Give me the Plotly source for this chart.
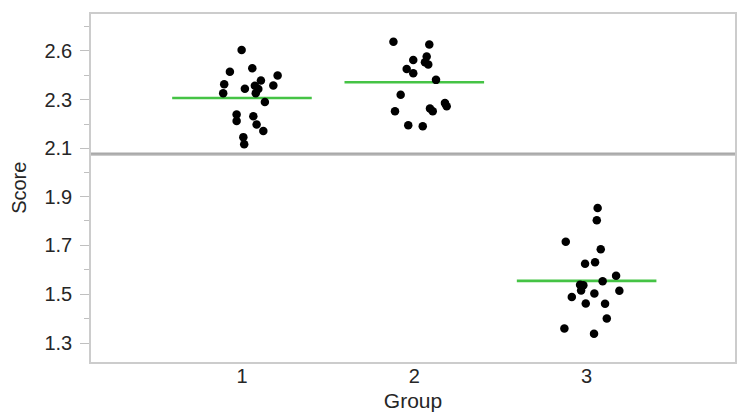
import plotly.graph_objects as go

# ---- data ----
group_labels = ["1", "2", "3"]
group_pos = [1, 2, 3]

# jittered x positions (group + jitter) and scores
g1_x = [0.998, 0.930, 1.060, 1.207, 0.897, 0.891, 1.017, 1.110, 1.075, 1.095,
        1.080, 1.182, 1.133, 0.969, 0.969, 1.066, 1.085, 1.124, 1.008, 1.013]
g1_y = [2.604, 2.493, 2.510, 2.473, 2.429, 2.383, 2.406, 2.448, 2.421, 2.404,
        2.383, 2.422, 2.338, 2.274, 2.240, 2.265, 2.223, 2.189, 2.158, 2.121]

g2_x = [1.879, 2.087, 1.994, 2.072, 2.062, 2.081, 1.956, 1.994, 2.126, 1.921,
        1.888, 2.091, 2.107, 2.178, 2.188, 1.965, 2.049]
g2_y = [2.646, 2.632, 2.553, 2.570, 2.541, 2.530, 2.507, 2.485, 2.451, 2.375,
        2.290, 2.304, 2.290, 2.332, 2.316, 2.219, 2.214]

g3_x = [3.064, 3.059, 2.879, 3.082, 2.991, 3.049, 3.171, 3.093, 2.962, 2.981,
        2.968, 3.190, 2.914, 3.045, 2.995, 3.107, 3.117, 2.871, 3.043]
g3_y = [1.853, 1.803, 1.715, 1.684, 1.625, 1.631, 1.576, 1.553, 1.539, 1.537,
        1.516, 1.515, 1.489, 1.503, 1.462, 1.461, 1.401, 1.360, 1.339]

group_means = [2.358, 2.439, 1.555]

# axis tick labels
low_tickvals = [1.3, 1.5, 1.7, 1.9]
low_ticktext = ["1.3", "1.5", "1.7", "1.9"]
high_tickvals = [2.1, 2.35, 2.6]
high_ticktext = ["2.1", "2.3", "2.6"]

# ---- styling / layout constants ----
BREAK = 2.075
LOW_RANGE = [1.223, 2.076]
HIGH_RANGE = [2.074, 2.788]
X_RANGE = [0.124, 3.861]
SPLIT = 0.599
HALF_W = 0.405
FONT = "Liberation Sans, Arial, sans-serif"
TXT = "#262626"
FRAME = "#cccccc"

all_x = g1_x + g2_x + g3_x
all_y = g1_y + g2_y + g3_y

fig = go.Figure()

# mean lines
for g, m in zip(group_pos, group_means):
    top = m > BREAK
    fig.add_trace(go.Scatter(
        x=[g - HALF_W, g + HALF_W], y=[m, m], mode="lines",
        line=dict(color="#45c345", width=2.6),
        xaxis="x2" if top else "x", yaxis="y2" if top else "y",
        showlegend=False, hoverinfo="skip"))

# points
lo_x = [x for x, y in zip(all_x, all_y) if y <= BREAK]
lo_y = [y for y in all_y if y <= BREAK]
hi_x = [x for x, y in zip(all_x, all_y) if y > BREAK]
hi_y = [y for y in all_y if y > BREAK]

mk = dict(color="black", size=8.5, line=dict(width=0))
fig.add_trace(go.Scatter(x=lo_x, y=lo_y, mode="markers", marker=mk,
                         xaxis="x", yaxis="y", showlegend=False))
fig.add_trace(go.Scatter(x=hi_x, y=hi_y, mode="markers", marker=mk,
                         xaxis="x2", yaxis="y2", showlegend=False))

yax_common = dict(
    showgrid=False, zeroline=False, showline=True, linecolor=FRAME,
    linewidth=1.5, mirror=True, ticks="outside", ticklen=9, tickwidth=1.2,
    tickcolor="#c0c0c0", tickfont=dict(family=FONT, size=20, color=TXT),
    ticklabelstandoff=4, fixedrange=True)

# the page body has an 8px margin: size the figure so the plot area
# lands where the reference has it
fig.update_layout(
    width=742, height=405,
    margin=dict(l=83, r=15, t=4, b=50),
    paper_bgcolor="white", plot_bgcolor="white",
    xaxis=dict(domain=[0, 1], range=X_RANGE, anchor="y",
               tickvals=group_pos, ticktext=group_labels,
               showgrid=False, zeroline=False, showline=True,
               linecolor=FRAME, linewidth=1.5, ticks="",
               ticklabelstandoff=-5,
               tickfont=dict(family=FONT, size=20, color=TXT),
               title=dict(text="Group", standoff=8,
                          font=dict(family=FONT, size=21, color=TXT))),
    xaxis2=dict(domain=[0, 1], range=X_RANGE, anchor="y2", matches="x",
                showticklabels=False, showgrid=False, zeroline=False,
                showline=True, mirror=True, linecolor=FRAME, linewidth=1.5,
                ticks=""),
    yaxis=dict(domain=[0, SPLIT], range=LOW_RANGE, anchor="x",
               tickvals=low_tickvals, ticktext=low_ticktext,
               minor=dict(dtick=0.1, tick0=1.3, ticks="outside", ticklen=5,
                          tickcolor="#c0c0c0", tickwidth=1.2),
               **yax_common),
    yaxis2=dict(domain=[SPLIT, 1], range=HIGH_RANGE, anchor="x2",
                tickvals=high_tickvals, ticktext=high_ticktext,
                minor=dict(dtick=0.125, tick0=2.1, ticks="outside", ticklen=5,
                           tickcolor="#c0c0c0", tickwidth=1.2),
                **yax_common),
    shapes=[dict(type="line", xref="paper", yref="paper", x0=0, x1=1,
                 y0=SPLIT, y1=SPLIT, line=dict(color="#a9a9a9", width=2.2))],
    annotations=[dict(text="Score", xref="paper", yref="paper",
                      x=-0.112, y=0.5, xanchor="center", yanchor="middle",
                      textangle=-90, showarrow=False,
                      font=dict(family=FONT, size=20, color=TXT))],
)

fig.write_html("out.html")
